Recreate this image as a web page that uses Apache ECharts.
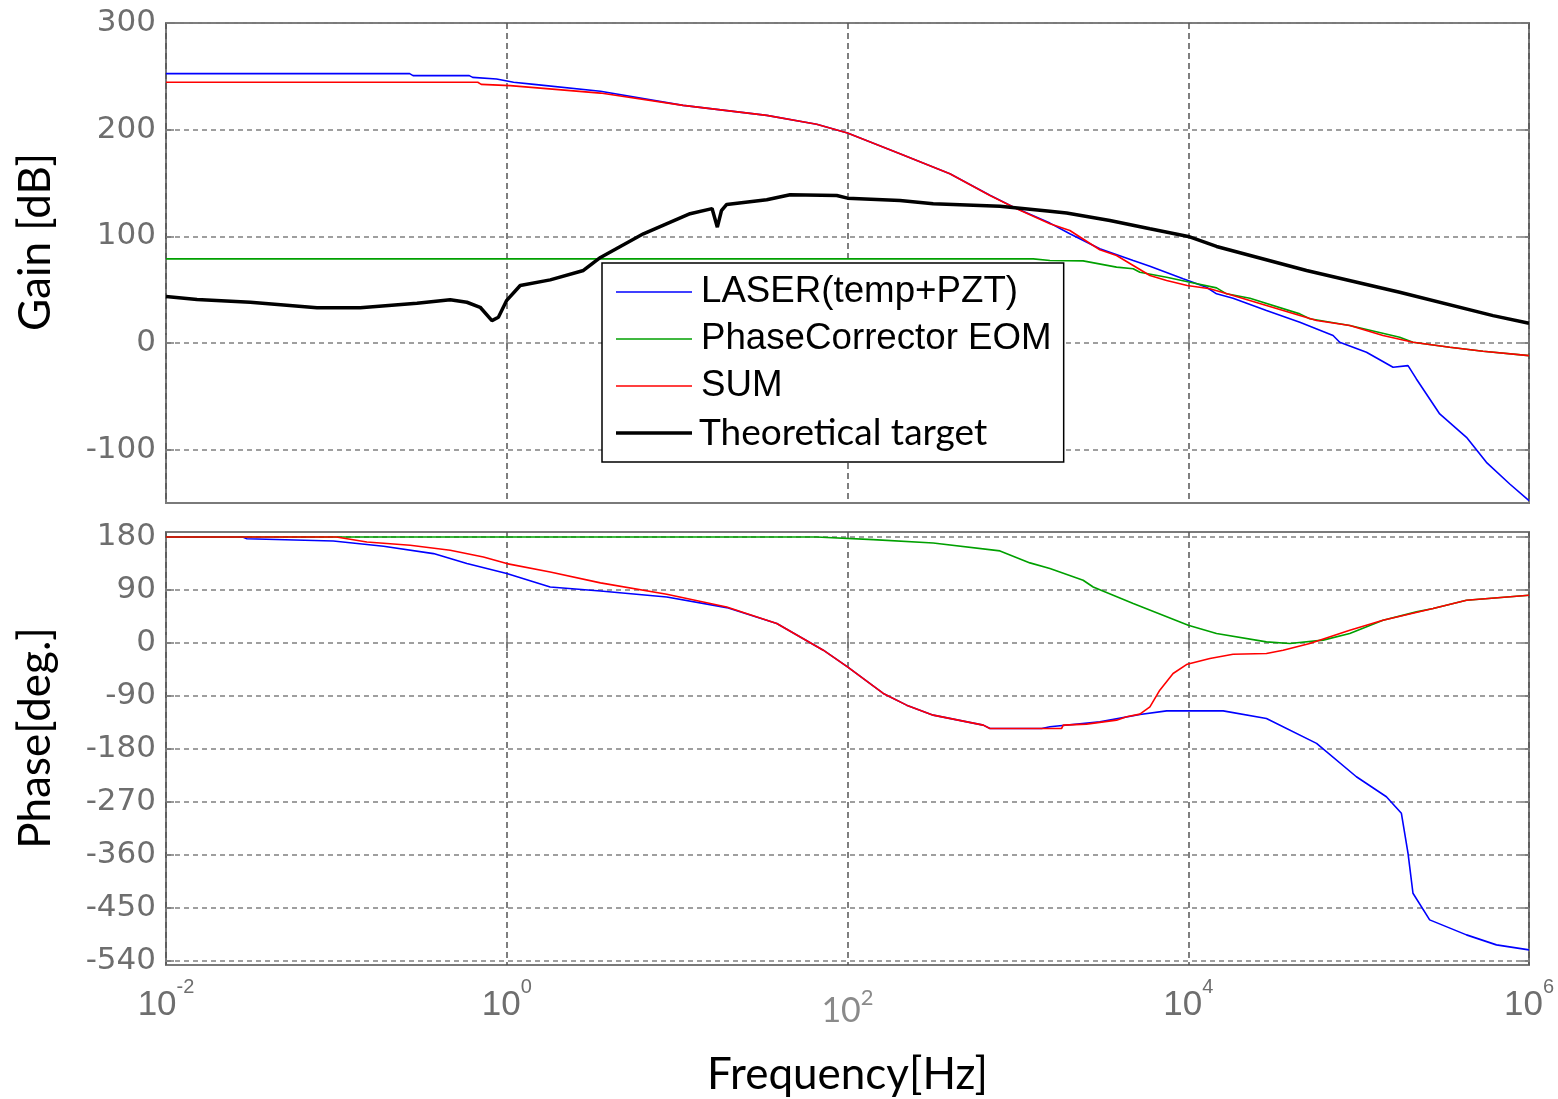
<!DOCTYPE html>
<html><head><meta charset="utf-8">
<script src="https://cdn.jsdelivr.net/npm/echarts@6/dist/echarts.min.js"></script>
<style>html,body{margin:0;padding:0;background:#fff}#chart{width:1558px;height:1099px}</style>
</head><body><div id="chart"></div>
<script>
// Each point: [log10(frequency in Hz), value]
const seriesNames = ['LASER(temp+PZT)', 'PhaseCorrector EOM', 'SUM', 'Theoretical target'];
const xTickExponents = [-2, 0, 2, 4, 6];
const gainTicks = [-100, 0, 100, 200, 300];
const phaseTicks = [-540, -450, -360, -270, -180, -90, 0, 90, 180];

const laserGain = [[-2,252.5],[-0.57,252.5],[-0.55,250.7],[-0.22,250.7],[-0.2,249],[-0.06,247.5],[0.04,244.5],[0.16,242.5],[0.55,236],[1.035,222.8],[1.526,213.4],[1.819,205],[2.0,196.8],[2.308,177.5],[2.601,158.7],[2.836,138.5],[2.993,126],[3.188,112.4],[3.305,102.4],[3.481,88.3],[3.677,77.4],[3.775,72],[3.97,60.2],[4.107,52.3],[4.166,46.1],[4.263,42],[4.459,30.4],[4.655,19.5],[4.85,7],[4.889,0.7],[5.046,-8.7],[5.202,-22.8],[5.29,-21.2],[5.339,-33.7],[5.476,-66.5],[5.633,-88.4],[5.75,-111.9],[5.887,-132.2],[6,-147.8]];
const eomGain = [[-2,78.9],[3.09,78.9],[3.188,77.4],[3.383,77],[3.579,71.1],[3.677,69.6],[3.716,66.4],[3.873,61.7],[4.01,57],[4.166,51.7],[4.225,46.1],[4.362,42],[4.655,27.3],[4.713,22.7],[4.948,16.4],[5.241,5.4],[5.319,0.7],[5.535,-4],[5.73,-7.7],[6,-11.8]];
const sumGain = [[-2,244.4],[-0.17,244.4],[-0.15,242.5],[0.02,241.3],[0.55,234.3],[1.035,222.8],[1.526,213.4],[1.819,205],[2.0,196.8],[2.308,177.5],[2.601,158.7],[2.836,138.3],[2.993,125.8],[3.188,111.8],[3.305,105.5],[3.481,87.4],[3.579,82],[3.677,72.7],[3.775,63.3],[3.873,58.6],[3.994,53.9],[4.127,50.8],[4.263,44.5],[4.459,35.2],[4.655,25.7],[4.753,21.1],[4.948,16.4],[5.143,7],[5.319,0.7],[5.535,-4],[5.73,-7.7],[6,-11.8]];
const targetGain = [[-2,43.6],[-1.818,40.8],[-1.505,38.2],[-1.114,33],[-0.86,33],[-0.527,37.3],[-0.332,40.5],[-0.234,38.2],[-0.156,33.5],[-0.087,21],[-0.049,24.2],[0.0,40],[0.079,53.9],[0.255,59.2],[0.45,68],[0.55,80.2],[0.802,102.4],[1.076,121.2],[1.205,126],[1.236,108.6],[1.26,124],[1.291,129.9],[1.526,134.3],[1.663,139],[1.937,138.3],[2.0,135.8],[2.308,133.7],[2.503,130.6],[2.895,128.3],[3.188,123.6],[3.286,121.8],[3.54,114.9],[3.775,107.1],[4.0,99.9],[4.166,90.5],[4.694,68],[5.241,47.6],[5.789,25.7],[6,18.5]];

const laserPhase = [[-2,180],[-1.55,180],[-1.525,177],[-1.018,173.2],[-0.723,164.2],[-0.43,151.8],[-0.234,134.8],[0,117.8],[0.255,95],[0.55,88.3],[0.939,78.1],[1.291,60],[1.585,33],[1.858,-12.4],[2.0,-40.7],[2.21,-85.9],[2.347,-105.8],[2.503,-122.8],[2.797,-139.8],[2.836,-145.4],[3.14,-145.4],[3.188,-142.6],[3.481,-134.2],[3.716,-121.6],[3.873,-115.5],[4.205,-115.5],[4.459,-128.4],[4.753,-170.8],[4.987,-227.5],[5.163,-261.5],[5.251,-289.7],[5.29,-357.6],[5.319,-425.5],[5.417,-470.8],[5.633,-496.3],[5.809,-513.3],[6,-521.8]];
const eomPhase = [[-2,180],[1.819,180],[1.83,177.3],[2.151,175.6],[2.503,169.9],[2.895,156.4],[3.071,136],[3.188,126.3],[3.383,106.5],[3.442,95],[3.677,66.9],[4.0,30],[4.166,16],[4.459,1.8],[4.596,-1],[4.792,4.7],[4.948,16],[5.143,38.5],[5.339,52.7],[5.437,58.4],[5.633,72.5],[6,81]];
const sumPhase = [[-2,180],[-1.0,180],[-0.821,171.5],[-0.567,165.9],[-0.332,157.4],[-0.137,146],[0,134.8],[0.255,120.6],[0.55,102],[0.939,82.7],[1.291,61.1],[1.585,33],[1.858,-12.4],[2.0,-40.7],[2.21,-85.9],[2.347,-105.8],[2.503,-122.8],[2.797,-139.8],[2.836,-145.4],[3.257,-145.4],[3.266,-139.8],[3.403,-138.1],[3.579,-131.3],[3.638,-125.6],[3.716,-121.1],[3.775,-108.7],[3.833,-80.3],[3.911,-52],[3.994,-36.2],[4.127,-26.5],[4.263,-19.2],[4.459,-18],[4.557,-12.4],[4.713,-1],[4.948,21.6],[5.143,38.5],[5.437,58.4],[5.633,72.5],[6,81]];

const colors = ['#0000ff', '#00a000', '#ff0000', '#000000'];
const widths = [1.6, 1.6, 1.6, 3.5];

function toHz(pts) { return pts.map(p => [Math.pow(10, p[0]), p[1]]); }

const gray = '#6e6e6e';
const frame = '#7a7a7a';
const xTicksHz = xTickExponents.map(e => Math.pow(10, e));

function xAxisDef(gridIndex, position, showLabels, withName) {
  return {
    type: 'log', logBase: 10, gridIndex: gridIndex, position: position,
    min: 0.01, max: 1e6,
    axisLine: { show: false },
    axisTick: { show: true, inside: true, length: 8, customValues: xTicksHz, lineStyle: { color: frame, width: 1.5 } },
    minorTick: { show: false },
    splitLine: { show: position === 'bottom', lineStyle: { color: '#555', width: 1.5, type: [6, 4] } },
    axisLabel: {
      show: showLabels, customValues: xTicksHz, margin: 12, showMinLabel: true, showMaxLabel: true, hideOverlap: false,
      formatter: function (v) {
        const e = Math.round(Math.log10(v));
        if (e === 2) return '{c|10}{d|' + e + '}';
        return '{b|10}{s|' + e + '}';
      },
      rich: {
        b: { fontFamily: 'Liberation Sans', fontSize: 35, color: gray, lineHeight: 46, verticalAlign: 'bottom' },
        s: { fontFamily: 'Liberation Sans', fontSize: 20, color: gray, lineHeight: 20, verticalAlign: 'top' },
        c: { fontFamily: 'Lato', fontSize: 34, color: '#8a8a8a', lineHeight: 51, verticalAlign: 'bottom' },
        d: { fontFamily: 'Lato', fontSize: 22, color: '#8a8a8a', lineHeight: 26, verticalAlign: 'top', padding: [10, 0, 0, 0] }
      }
    },
    name: withName ? 'Frequency[Hz]' : '',
    nameLocation: 'middle', nameGap: 88,
    nameTextStyle: { fontFamily: 'Lato', fontSize: 44, color: '#000' }
  };
}

function yAxisDef(gridIndex, position, min, max, ticks, showLabels, name, namePad) {
  return {
    type: 'value', gridIndex: gridIndex, position: position, min: min, max: max,
    axisLine: { show: false },
    axisTick: { show: true, inside: true, length: 8, customValues: ticks, lineStyle: { color: frame, width: 1.5 } },
    splitLine: { show: position === 'left', lineStyle: { color: '#808080', width: 1.5, type: [5, 4] } },
    axisLabel: {
      show: showLabels, customValues: ticks, margin: 10,
      fontFamily: 'DejaVu Sans', fontSize: 31, color: gray
    },
    name: name, nameLocation: 'middle', nameRotate: 90, nameGap: 108,
    nameTextStyle: { fontFamily: 'Lato', fontSize: 44, color: '#000', padding: [0, 0, 0, namePad] }
  };
}

function lineSeries(i, data, xi, yi) {
  return {
    name: seriesNames[i], type: 'line', xAxisIndex: xi, yAxisIndex: yi,
    data: toHz(data), symbol: 'none', showSymbol: false, smooth: false,
    lineStyle: { color: colors[i], width: widths[i] }, itemStyle: { color: colors[i] },
    z: 2 + i, silent: true
  };
}

const thinIcon = 'path://M0,0h76v1.6h-76z';
const thickIcon = 'path://M0,0h76v3.5h-76z';

const chart = echarts.init(document.getElementById('chart'), null, { renderer: 'canvas' });
chart.setOption({
  animation: false,
  backgroundColor: '#fff',
  grid: [
    { left: 166, top: 23, right: 29, height: 480, show: true, borderColor: frame, borderWidth: 2, backgroundColor: '#fff' },
    { left: 166, top: 532, right: 29, height: 433, show: true, borderColor: frame, borderWidth: 2, backgroundColor: '#fff' }
  ],
  xAxis: [
    xAxisDef(0, 'bottom', false, false),
    xAxisDef(1, 'bottom', true, true),
    xAxisDef(0, 'top', false, false),
    xAxisDef(1, 'top', false, false)
  ],
  yAxis: [
    yAxisDef(0, 'left', -150, 300, gainTicks, true, 'Gain [dB]', 42),
    yAxisDef(1, 'left', -547.5, 188.5, phaseTicks, true, 'Phase[deg.]', 21),
    yAxisDef(0, 'right', -150, 300, gainTicks, false, '', 0),
    yAxisDef(1, 'right', -547.5, 188.5, phaseTicks, false, '', 0)
  ],
  legend: {
    orient: 'vertical', left: 602, top: 263,
    padding: [9, 12, 9, 14], itemGap: 7, itemWidth: 76, itemHeight: 14,
    backgroundColor: '#fff', borderColor: '#000', borderWidth: 1.5, borderRadius: 0,
    selectedMode: false, symbolKeepAspect: true,
    textStyle: { fontFamily: 'Liberation Sans', fontSize: 36.7, color: '#000', lineHeight: 40, padding: [0, 0, 0, 4] },
    data: [
      { name: seriesNames[0], icon: thinIcon },
      { name: seriesNames[1], icon: thinIcon },
      { name: seriesNames[2], icon: thinIcon },
      { name: seriesNames[3], icon: thickIcon, textStyle: { fontFamily: 'Lato', fontSize: 37, color: '#000', lineHeight: 40, padding: [0, 0, 0, 2] } }
    ]
  },
  series: [
    lineSeries(0, laserGain, 0, 0),
    lineSeries(1, eomGain, 0, 0),
    lineSeries(2, sumGain, 0, 0),
    lineSeries(3, targetGain, 0, 0),
    lineSeries(0, laserPhase, 1, 1),
    lineSeries(1, eomPhase, 1, 1),
    lineSeries(2, sumPhase, 1, 1)
  ]
});
</script></body></html>
